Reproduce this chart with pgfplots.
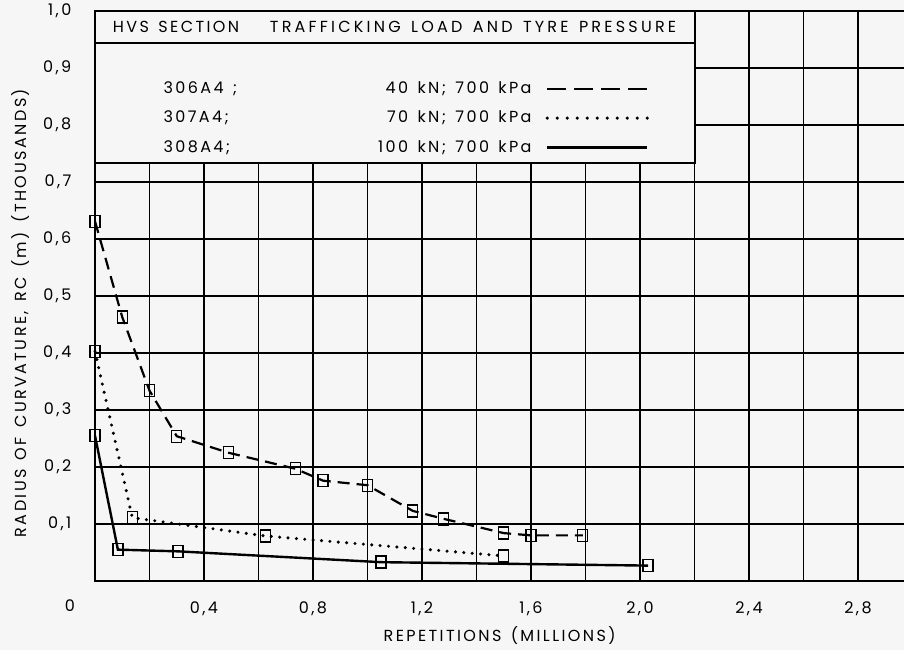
\documentclass[border=0pt]{standalone}
\usepackage{fontspec}
\setmainfont{Poppins}[LetterSpace=15, WordSpace=1.4]
\usepackage{pgfplots}
\pgfplotsset{compat=1.18}
\usetikzlibrary{backgrounds}
\definecolor{paper}{RGB}{246,246,246}

% Radius of curvature (thousands of m) against repetitions (millions)
\pgfplotstableread{
x      y
0.00   0.631
0.10   0.463
0.20   0.334
0.30   0.254
0.49   0.225
0.735  0.197
0.837  0.176
1.00   0.168
1.166  0.123
1.28   0.109
1.50   0.084
1.60   0.080
1.79   0.080
}\secA
\pgfplotstableread{
x      y
0.00   0.403
0.137  0.111
0.625  0.079
1.50   0.044
}\secB
\pgfplotstableread{
x      y
0.00   0.255
0.084  0.055
0.305  0.052
1.05   0.033
2.03   0.027
}\secC

\newcommand{\legrow}[2]{\makebox[191pt][l]{#1\hfill #2\hspace{7pt}}}

\begin{document}
\begin{tikzpicture}[font=\fontsize{8}{9.6}\selectfont]
\begin{axis}[
  name=ax,
  scale only axis,
  width=408.75pt, height=285pt,
  xmin=0, xmax=3, ymin=0, ymax=1,
  axis line style={line width=1pt},
  xtick={0,0.2,0.4,0.6,0.8,1.0,1.2,1.4,1.6,1.8,2.0,2.2,2.4,2.6,2.8,3.0},
  xticklabels={{},{},{0,4},{},{0,8},{},{1,2},{},{1,6},{},{2,0},{},{2,4},{},{2,8},{}},
  ytick={0.1,0.2,0.3,0.4,0.5,0.6,0.7,0.8,0.9,1.0},
  yticklabels={{0,1},{0,2},{0,3},{0,4},{0,5},{0,6},{0,7},{0,8},{0,9},{1,0}},
  grid=major,
  major grid style={black, line width=0.75pt},
  major tick length=0pt,
  tick label style={font=\fontsize{8}{9.6}\selectfont},
  xticklabel style={yshift=-6.8pt},
  yticklabel style={xshift=-8.3pt},
  xlabel={REPETITIONS (MILLIONS)},
  ylabel={RADIUS OF CURVATURE, RC (m) (THOUSANDS)},
  xlabel style={at={(axis description cs:0.495,-0.0965)}, anchor=center},
  ylabel style={at={(axis description cs:-0.0917,0.47)}, anchor=center},
  legend plot pos=right,
  legend image code/.code={\draw[#1] (0pt,0pt) -- (50pt,0pt);},
  legend style={at={(axis cs:0.25,0.812)}, anchor=west, draw=none, fill=none,
    inner sep=0pt, row sep=7.2pt,
    nodes={inner sep=0pt, text height=6pt, text depth=1.5pt}},
  clip=false,
]
% test sections
\addplot[black, line width=1.1pt, dash pattern=on 6pt off 3.5pt,
  mark=square, mark size=2.5pt,
  mark options={solid, fill=paper, line width=0.7pt, yscale=1.2}, forget plot]
  table {\secA};
\addplot[black, line width=1.7pt, line cap=round, dash pattern=on 0pt off 4.2pt,
  mark=square, mark size=2.5pt,
  mark options={solid, fill=paper, line width=0.7pt, yscale=1.2}, forget plot]
  table {\secB};
\addplot[black, line width=1.2pt,
  mark=square, mark size=2.5pt,
  mark options={solid, fill=paper, line width=0.7pt, yscale=1.2}, forget plot]
  table {\secC};

% key panel
\draw[line width=1pt, fill=paper] (axis cs:0,0.733) rectangle (axis cs:2.2,1.0);
\draw[line width=1pt] (axis cs:0,0.944) -- (axis cs:2.2,0.944);
\node[anchor=west] at (axis cs:0.040,0.972) {HVS SECTION};
\node[anchor=west] at (axis cs:0.616,0.972)
  {\addfontfeatures{LetterSpace=20}TRAFFICKING LOAD AND TYRE PRESSURE};

\addlegendimage{black, line width=1.1pt, dash pattern=on 9.5pt off 4pt}
\addlegendentry{\legrow{306A4 ;}{40 kN; 700 kPa}}
\addlegendimage{black, line width=1.7pt, line cap=round, dash pattern=on 0pt off 5pt}
\addlegendentry{\legrow{307A4;}{70 kN; 700 kPa}}
\addlegendimage{black, line width=1.2pt}
\addlegendentry{\legrow{308A4;}{100 kN; 700 kPa}}
\end{axis}
\node at ([xshift=-12.5pt,yshift=-12.5pt]ax.south west) {0};
\pgfresetboundingbox
\path ([shift={(-47.5pt,-34.5pt)}]ax.south west) coordinate (bbl)
  rectangle ([shift={(-4.25pt,5.5pt)}]ax.north east) coordinate (bbr);
\begin{scope}[on background layer]
  \fill[paper] (bbl) rectangle (bbr);
\end{scope}
\end{tikzpicture}
\end{document}
